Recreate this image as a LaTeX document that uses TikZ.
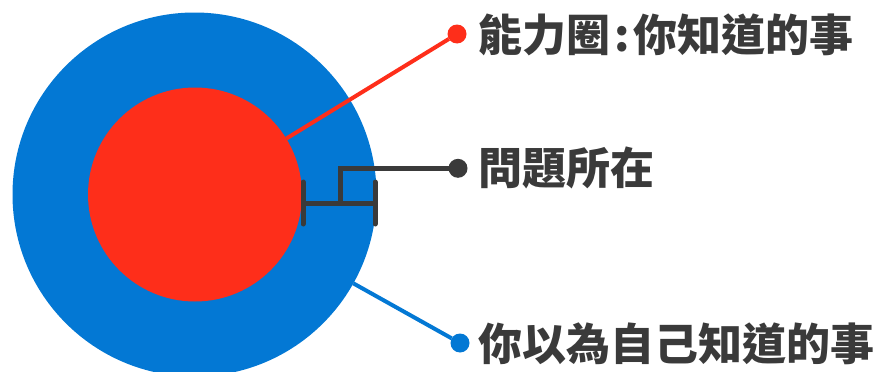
\documentclass[tikz,border=0pt]{standalone}
\usepackage{fontspec}
\newfontfamily\cjk{Noto Sans CJK TC Black}
\definecolor{myblue}{RGB}{3,120,212}
\definecolor{myred}{RGB}{254,46,26}
\definecolor{mygray}{RGB}{58,58,58}
\tikzset{
  disc/.style={circle, inner sep=0pt, outer sep=0pt},
  dotnode/.style={circle, inner sep=0pt, outer sep=0pt, minimum size=19pt},
  lbl/.style={anchor=base west, inner sep=0pt, text=mygray, font=\cjk\fontsize{44}{44}\selectfont},
  grayline/.style={draw=mygray, line width=5pt},
  tick/.style={draw=mygray, line width=5pt, line cap=round},
}
\begin{document}
\begin{tikzpicture}[x=1pt,y=-1pt]
\useasboundingbox (0,0) rectangle (879,372);
\clip (0,0) rectangle (879,372);
% circles
\node[disc, fill=myblue, minimum size=364pt] (outer) at (194.5,194.5) {};
\node[disc, fill=myred, minimum size=214pt] (inner) at (195,194.5) {};
% dots
\node[dotnode, fill=myred] (d1) at (457,34) {};
\node[dotnode, fill=mygray] (d2) at (458,168.3) {};
\node[dotnode, fill=myblue] (d3) at (460,343) {};
% connectors
\draw[myred, line width=4pt] (inner) -- (d1);
\draw[myblue, line width=4pt] (outer) -- (d3);
% bracket
\coordinate (bl) at (303,203.5);
\coordinate (br) at (375,203.5);
\coordinate (bs) at (340.5,203.5);
\coordinate (bt) at (340.5,168.3);
\draw[tick] (303,182) -- (303,224);
\draw[tick] (375,182) -- (375,224);
\draw[grayline] (bl) -- (br);
\draw[grayline, line join=miter] (bs) -- (bt) -- (d2.center);
% labels
\node[lbl] (t1) at (478,51.5) {能力圈\hspace{4pt}:\hspace{4pt}你知道的事};
\node[lbl] (t2) at (478,184) {問題所在};
\node[lbl] (t3) at (478,360) {你以為自己知道的事};
\end{tikzpicture}
\end{document}
